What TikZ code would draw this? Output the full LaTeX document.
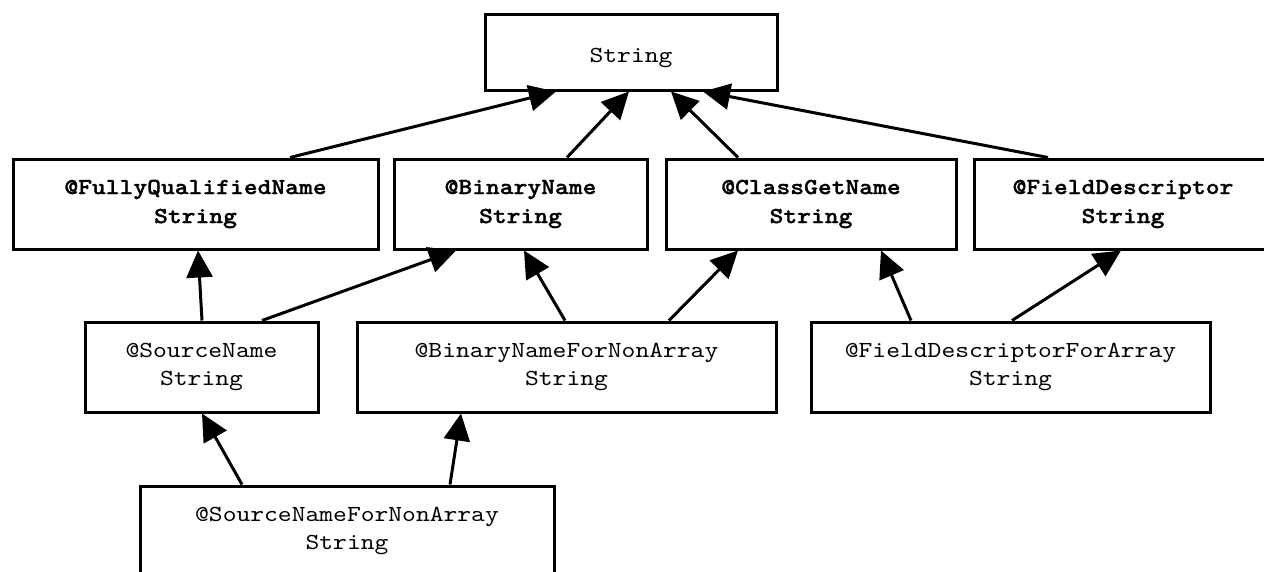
\documentclass[tikz,border=0pt]{standalone}
\usepackage{fontspec}
\newfontfamily\courfont{lmmono10-regular.otf}[FakeStretch=1.143, BoldFont=lmmonolt10-bold.otf, BoldFeatures={FakeBold=1.2}]
\usetikzlibrary{arrows.meta,calc}
\tikzset{
  box/.style={draw=black, line width=3pt, rectangle, inner sep=0pt, align=center,
    font=\courfont\fontsize{23}{28}\selectfont},
  twoline/.style={execute at begin node={\rule{0pt}{20pt}}},
  boldbox/.style={box, font=\courfont\bfseries\fontsize{23}{29}\selectfont},
  edge/.style={line width=3pt, -{Triangle[length=27pt,width=26pt]}}
}
\begin{document}
\begin{tikzpicture}[x=1pt,y=-1pt]
\useasboundingbox (0,0) rectangle (1264,571);
\node[box, minimum width=292pt, minimum height=76pt, text height=21pt, text depth=0pt] (str) at (631,52) {String};
\node[boldbox, twoline, minimum width=365pt, minimum height=90pt] (fqn) at (195.5,204) {@FullyQualifiedName\\String};
\node[boldbox, twoline, minimum width=253pt, minimum height=90pt] (bn) at (520.5,204) {@BinaryName\\String};
\node[boldbox, twoline, minimum width=290pt, minimum height=90pt] (cgn) at (811,204) {@ClassGetName\\String};
\node[boldbox, twoline, minimum width=298pt, minimum height=90pt] (fd) at (1123,204) {@FieldDescriptor\\String};
\node[box, twoline, minimum width=233pt, minimum height=90pt] (sn) at (201.5,367) {@SourceName\\String};
\node[box, twoline, minimum width=419pt, minimum height=90pt] (bnfna) at (566.5,367) {@BinaryNameForNonArray\\String};
\node[box, twoline, minimum width=399pt, minimum height=90pt] (fdfa) at (1010.5,367) {@FieldDescriptorForArray\\String};
\node[box, twoline, minimum width=414pt, minimum height=90pt] (snfna) at (347,531) {@SourceNameForNonArray\\String};
\draw[edge] ($(fqn.north)+(94.5,0)$) -- ($(str.south)+(-75,0)$);
\draw[edge] ($(bn.north)+(46.5,0)$) -- ($(str.south)+(-2,0)$);
\draw[edge] ($(cgn.north)+(-73,0)$) -- ($(str.south)+(40,0)$);
\draw[edge] ($(fd.north)+(-75,0)$) -- ($(str.south)+(72,0)$);
\draw[edge] ($(sn.north)+(0.5,0)$) -- ($(fqn.south)+(2.5,0)$);
\draw[edge] ($(sn.north)+(60.5,0)$) -- ($(bn.south)+(-64.5,0)$);
\draw[edge] ($(bnfna.north)+(-1.5,0)$) -- ($(bn.south)+(3.5,0)$);
\draw[edge] ($(bnfna.north)+(102.5,0)$) -- ($(cgn.south)+(-73,0)$);
\draw[edge] ($(fdfa.north)+(-99.5,0)$) -- ($(cgn.south)+(70,0)$);
\draw[edge] ($(fdfa.north)+(1.5,0)$) -- ($(fd.south)+(-2,0)$);
\draw[edge] ($(snfna.north)+(-105,0)$) -- ($(sn.south)+(0.5,0)$);
\draw[edge] ($(snfna.north)+(103,0)$) -- ($(bnfna.south)+(-105.5,0)$);
\end{tikzpicture}
\end{document}
